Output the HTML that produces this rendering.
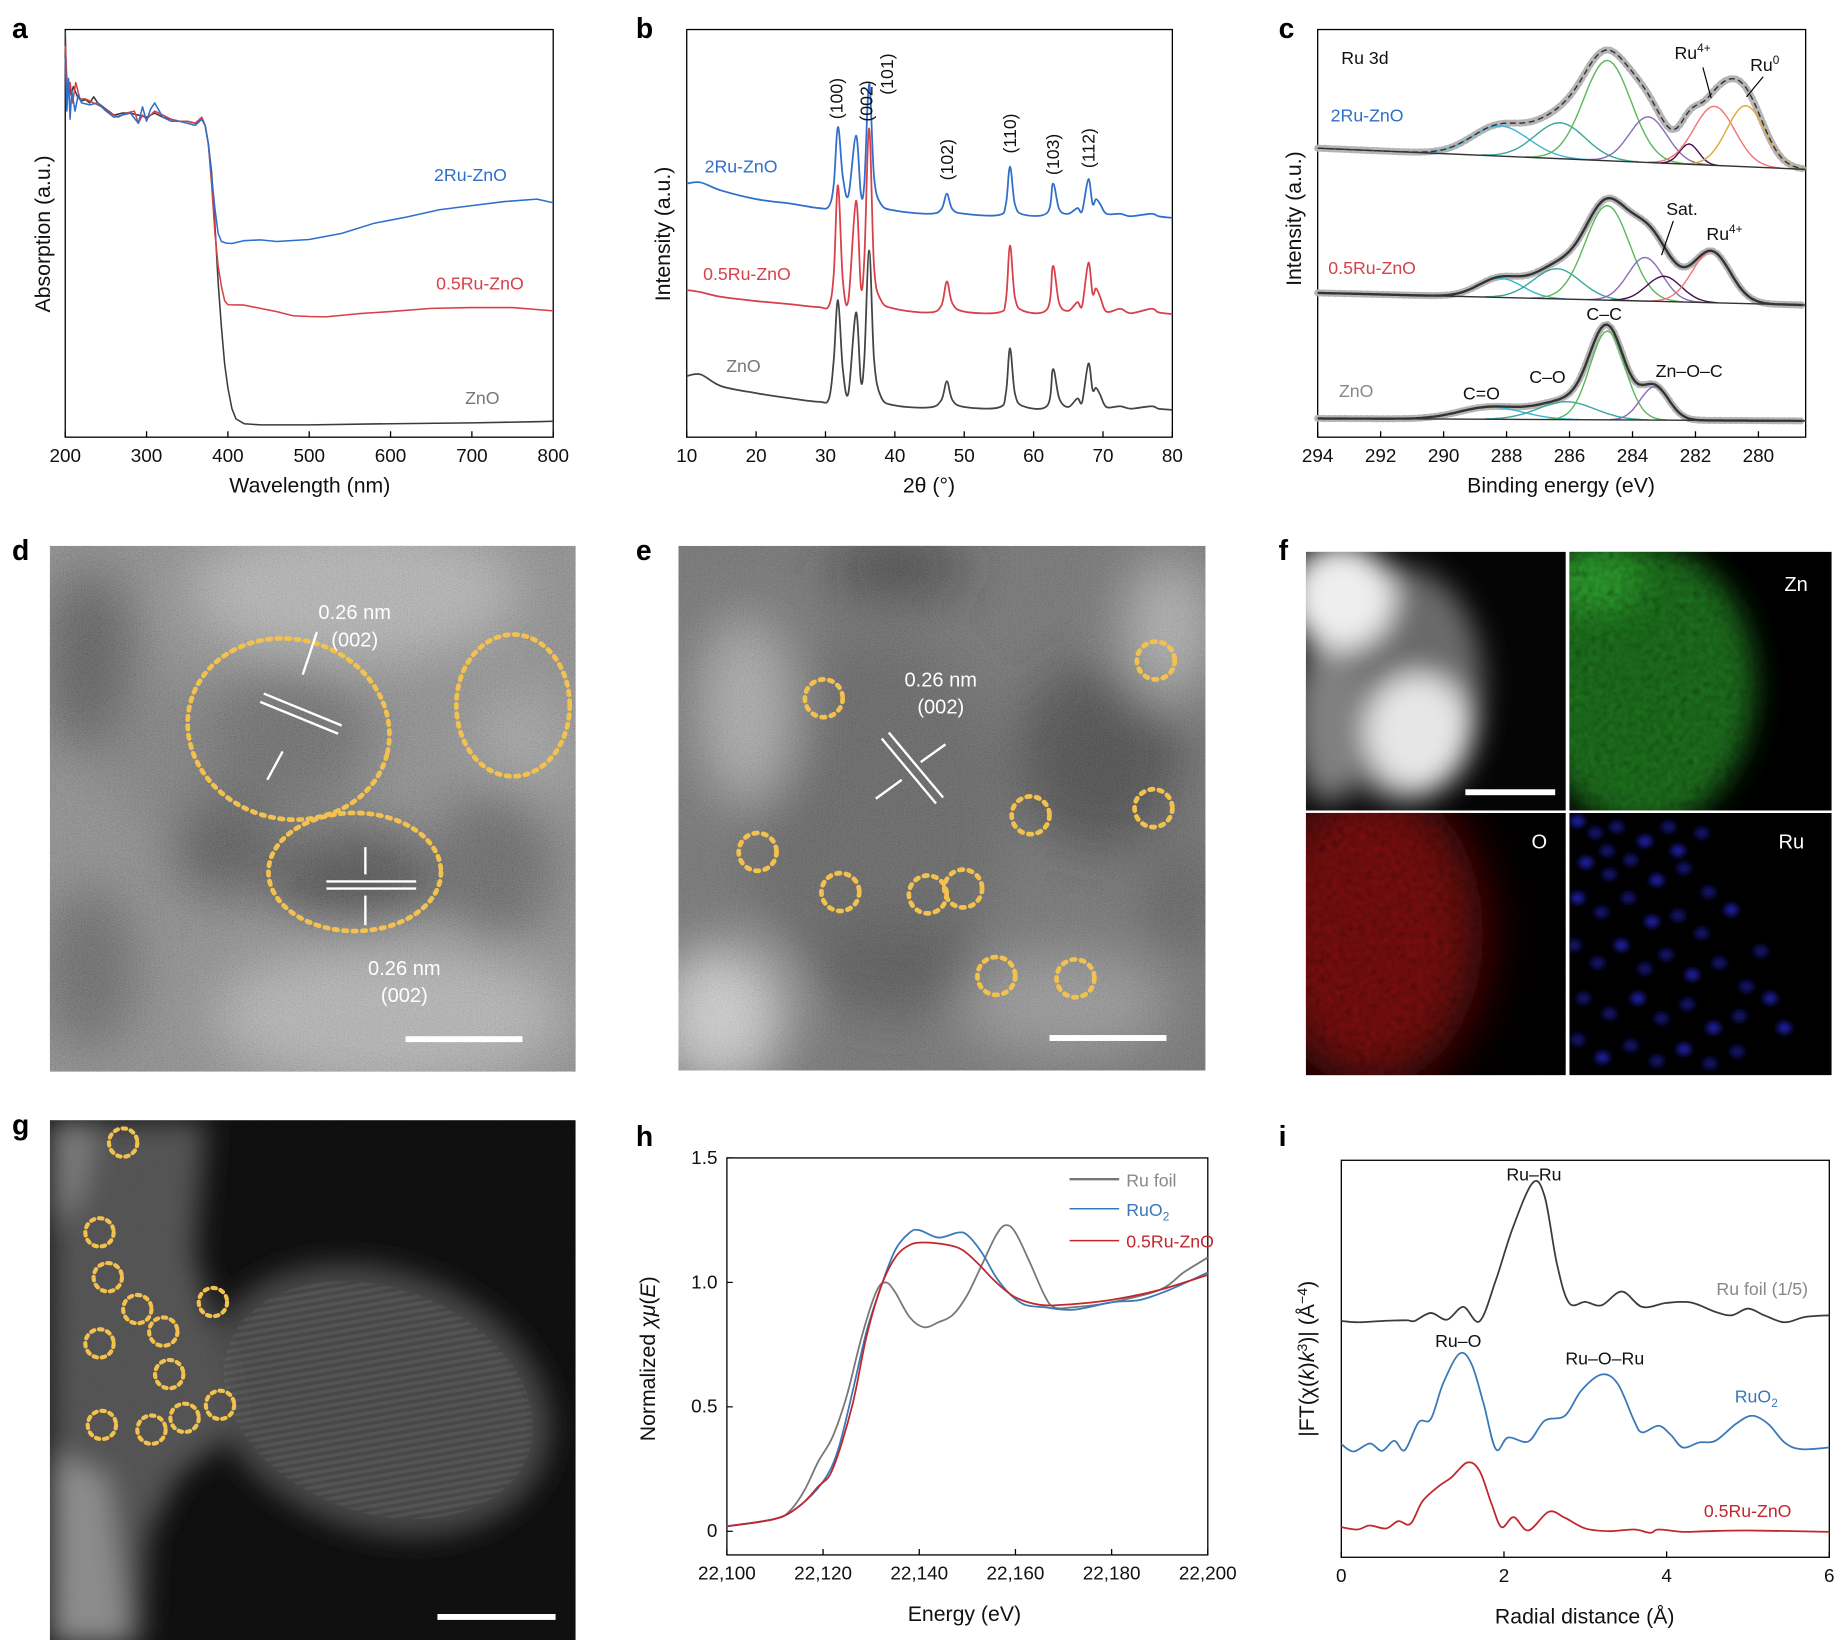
<!DOCTYPE html>
<html><head><meta charset="utf-8"><style>
html,body{margin:0;padding:0;background:#fff;}
svg{display:block;font-family:"Liberation Sans",Arial,sans-serif;}
</style></head><body>
<svg id="fig" width="1839" height="1640" viewBox="0 0 1556 1388" xmlns="http://www.w3.org/2000/svg">
<defs>
<filter id="noise" x="0" y="0" width="100%" height="100%"><feTurbulence type="fractalNoise" baseFrequency="0.9" numOctaves="2" seed="3"/><feColorMatrix values="0.33 0.33 0.33 0 0  0.33 0.33 0.33 0 0  0.33 0.33 0.33 0 0  0 0 0 0 1"/></filter>
<filter id="noiseC" x="0" y="0" width="100%" height="100%"><feTurbulence type="fractalNoise" baseFrequency="0.18" numOctaves="2" seed="7"/><feColorMatrix values="0.6 0.6 0.6 0 -0.25  0.6 0.6 0.6 0 -0.25  0.6 0.6 0.6 0 -0.25  0 0 0 0 1"/></filter>
<filter id="blur8" x="-60%" y="-60%" width="220%" height="220%"><feGaussianBlur stdDeviation="12"/></filter>
<filter id="blur20" x="-80%" y="-80%" width="260%" height="260%"><feGaussianBlur stdDeviation="22"/></filter>
<filter id="blur4" x="-50%" y="-50%" width="200%" height="200%"><feGaussianBlur stdDeviation="2.5"/></filter>
<pattern id="stripes" width="6" height="6" patternUnits="userSpaceOnUse" patternTransform="rotate(60)"><rect width="3" height="6" fill="#fff"/></pattern>
<clipPath id="cd"><rect x="42" y="462" width="445" height="445"/></clipPath>
<clipPath id="ce"><rect x="574" y="462" width="446" height="444"/></clipPath>
<clipPath id="cg"><rect x="42" y="948" width="445" height="444"/></clipPath>
<clipPath id="cf1"><rect x="1105" y="467" width="220" height="219"/></clipPath>
<clipPath id="cf2"><rect x="1328" y="467" width="222" height="219"/></clipPath>
<clipPath id="cf3"><rect x="1105" y="688" width="220" height="222"/></clipPath>
<clipPath id="cf4"><rect x="1328" y="688" width="222" height="222"/></clipPath>
</defs>

<g font-weight="bold" font-size="24" fill="#000">
<text x="10" y="32">a</text>
<text x="538" y="32">b</text>
<text x="1082" y="32">c</text>
<text x="10" y="474">d</text>
<text x="538" y="474">e</text>
<text x="1082" y="474">f</text>
<text x="10" y="960">g</text>
<text x="538" y="970">h</text>
<text x="1082" y="970">i</text>
</g>

<!-- d image -->
<g clip-path="url(#cd)">
<rect x="42" y="462" width="445" height="445" fill="#7a7a7a"/>
<g filter="url(#blur20)">
<ellipse cx="300" cy="500" rx="140" ry="60" fill="#b0b0b0"/>
<ellipse cx="330" cy="860" rx="150" ry="60" fill="#b0b0b0"/>
<ellipse cx="440" cy="640" rx="40" ry="60" fill="#999"/>
<ellipse cx="75" cy="560" rx="40" ry="80" fill="#353535"/>
<ellipse cx="150" cy="640" rx="60" ry="60" fill="#666"/>
<ellipse cx="190" cy="715" rx="45" ry="45" fill="#2e2e2e"/>
<ellipse cx="300" cy="745" rx="70" ry="45" fill="#222"/>
<ellipse cx="244" cy="625" rx="70" ry="65" fill="#4c4c4c"/>
<ellipse cx="420" cy="730" rx="50" ry="70" fill="#444"/>
<ellipse cx="75" cy="820" rx="40" ry="70" fill="#444"/>
</g>
<rect x="42" y="462" width="445" height="445" filter="url(#noise)" opacity="0.4"/>
</g>
<g fill="none" stroke="#f2c14e" stroke-width="4" stroke-dasharray="3 5" stroke-linecap="round">
<ellipse cx="244" cy="617" rx="86" ry="76" transform="rotate(15 244 617)"/>
<ellipse cx="434" cy="597" rx="48" ry="60"/>
<ellipse cx="300" cy="738" rx="73" ry="50"/>
</g>
<g stroke="#fff" stroke-width="2" fill="none">
<line x1="220" y1="594" x2="286" y2="621"/><line x1="223" y1="587" x2="289" y2="614"/>
<line x1="276" y1="746" x2="352" y2="746"/><line x1="276" y1="752" x2="352" y2="752"/>
<line x1="268" y1="535" x2="256" y2="571"/><line x1="239" y1="636" x2="226" y2="660"/>
<line x1="309" y1="717" x2="309" y2="740"/><line x1="309" y1="758" x2="309" y2="783"/>
</g>
<g fill="#fff" font-size="17" text-anchor="middle">
<text x="300" y="524">0.26 nm</text><text x="300" y="547">(002)</text>
<text x="342" y="825">0.26 nm</text><text x="342" y="848">(002)</text>
</g>
<rect x="343" y="877" width="99" height="5" fill="#fff"/>

<!-- e image -->
<g clip-path="url(#ce)">
<rect x="574" y="462" width="446" height="444" fill="#5a5a5a"/>
<g filter="url(#blur20)">
<ellipse cx="740" cy="690" rx="110" ry="150" fill="#464646"/>
<ellipse cx="930" cy="640" rx="70" ry="80" fill="#262626"/>
<ellipse cx="760" cy="480" rx="60" ry="30" fill="#202020"/>
<ellipse cx="610" cy="860" rx="55" ry="60" fill="#d0d0d0"/>
<ellipse cx="630" cy="600" rx="40" ry="80" fill="#a5a5a5"/>
<ellipse cx="990" cy="530" rx="40" ry="60" fill="#a8a8a8"/>
<ellipse cx="900" cy="850" rx="90" ry="45" fill="#8a8a8a"/>
<ellipse cx="760" cy="820" rx="70" ry="40" fill="#363636"/>
<ellipse cx="1000" cy="760" rx="30" ry="50" fill="#404040"/>
</g>
<rect x="574" y="462" width="446" height="444" filter="url(#noise)" opacity="0.35"/>
</g>
<g fill="none" stroke="#f2c14e" stroke-width="4" stroke-dasharray="3 5" stroke-linecap="round">
<circle cx="697" cy="591" r="16"/><circle cx="978" cy="559" r="16"/><circle cx="641" cy="721" r="16"/>
<circle cx="711" cy="755" r="16"/><circle cx="785" cy="757" r="16"/><circle cx="815" cy="752" r="16"/>
<circle cx="872" cy="690" r="16"/><circle cx="976" cy="684" r="16"/><circle cx="843" cy="826" r="16"/><circle cx="910" cy="828" r="16"/>
</g>
<g stroke="#fff" stroke-width="2" fill="none">
<line x1="746" y1="625" x2="792" y2="680"/><line x1="752" y1="620" x2="798" y2="675"/>
<line x1="800" y1="630" x2="779" y2="645"/><line x1="741" y1="676" x2="763" y2="660"/>
</g>
<g fill="#fff" font-size="17" text-anchor="middle"><text x="796" y="581">0.26 nm</text><text x="796" y="604">(002)</text></g>
<rect x="888" y="876" width="99" height="5" fill="#fff"/>

<!-- f maps -->
<g clip-path="url(#cf1)">
<rect x="1105" y="467" width="220" height="219" fill="#050505"/>
<g filter="url(#blur8)">
<ellipse cx="1185" cy="580" rx="70" ry="100" fill="#6a6a6a"/>
<ellipse cx="1125" cy="610" rx="30" ry="70" fill="#808080"/>
<ellipse cx="1135" cy="505" rx="45" ry="45" fill="#eeeeee"/>
<ellipse cx="1200" cy="620" rx="45" ry="50" fill="#e6e6e6"/>
</g>
<rect x="1240" y="668" width="76" height="5" fill="#fff"/>
</g>
<g clip-path="url(#cf2)">
<rect x="1328" y="467" width="222" height="219" fill="#000"/>
<ellipse cx="1390" cy="580" rx="95" ry="120" fill="#1a701a" filter="url(#blur8)"/>
<ellipse cx="1350" cy="490" rx="40" ry="30" fill="#2a9a2a" filter="url(#blur8)"/>
<rect x="1328" y="467" width="222" height="219" filter="url(#noiseC)" opacity="0.6" style="mix-blend-mode:multiply"/>
</g>
<g clip-path="url(#cf3)">
<rect x="1105" y="688" width="220" height="222" fill="#000"/>
<ellipse cx="1160" cy="790" rx="95" ry="130" fill="#7a0c0c" filter="url(#blur20)"/>
<rect x="1105" y="688" width="220" height="222" filter="url(#noiseC)" opacity="0.65" style="mix-blend-mode:multiply"/>
</g>
<g clip-path="url(#cf4)">
<rect x="1328" y="688" width="222" height="222" fill="#000"/>
<g id="rudots" fill="#1a1aa0" filter="url(#blur4)"></g>
</g>
<g fill="#fff" font-size="17">
<text x="1510" y="500">Zn</text><text x="1296" y="718">O</text><text x="1505" y="718">Ru</text>
</g>

<!-- g image -->
<g clip-path="url(#cg)">
<rect x="42" y="948" width="445" height="444" fill="#000"/>
<g filter="url(#blur8)">
<ellipse cx="320" cy="1185" rx="150" ry="110" transform="rotate(20 320 1185)" fill="#3c3c3c"/>
<polygon points="42,948 175,948 165,1060 190,1150 200,1210 150,1250 125,1300 120,1392 42,1392" fill="#4a4a4a"/>
<polygon points="42,1230 90,1250 110,1392 42,1392" fill="#858585"/>
<polygon points="42,948 80,948 70,1010 42,1040" fill="#747474"/>
</g>
<ellipse cx="320" cy="1185" rx="135" ry="95" transform="rotate(20 320 1185)" fill="url(#stripes)" opacity="0.06"/>
<rect x="42" y="948" width="445" height="444" filter="url(#noise)" opacity="0.08" style="mix-blend-mode:screen"/>
</g>
<g fill="none" stroke="#f2c14e" stroke-width="3.5" stroke-dasharray="3 4" stroke-linecap="round">
<circle cx="104" cy="967" r="12"/><circle cx="84" cy="1043" r="12"/><circle cx="91" cy="1081" r="12"/><circle cx="116" cy="1108" r="12"/>
<circle cx="138" cy="1127" r="12"/><circle cx="84" cy="1137" r="12"/><circle cx="180" cy="1102" r="12"/><circle cx="143" cy="1163" r="12"/>
<circle cx="86" cy="1206" r="12"/><circle cx="128" cy="1210" r="12"/><circle cx="156" cy="1200" r="12"/><circle cx="186" cy="1189" r="12"/>
</g>
<rect x="370" y="1366" width="100" height="5" fill="#fff"/>

<g id="charts"></g>
</svg>
<script>
// ---------- data: panel a (UV-vis) ----------
const uvX_zno  = [200,202,204,207,210,215,220,225,230,235,240,250,260,270,280,290,300,310,320,330,340,350,360,368,372,376,380,384,388,392,396,400,405,410,420,440,500,600,700,780,800];
const uvY_zno  = [99.7,83,87,84,86,83.5,82.5,82.8,82,83.5,82,80.5,79,79.5,79.5,79,78.5,79.5,78.5,78,77.5,77.5,77,78,76.5,72,65,52,38,27,18,12,7,4.5,3.3,3.0,3.0,3.3,3.5,3.8,3.9];
const uvX_2ru  = [200,202,204,206,208,212,216,220,230,240,250,260,270,280,290,295,300,305,310,320,330,340,350,360,368,372,376,380,384,388,392,398,405,420,440,460,500,540,580,620,660,700,740,780,800];
const uvY_2ru  = [93,80,88,78,85,80,84,82,81.5,82,80,78.5,79,79.5,77,81,77.5,80.5,82,78.5,77.5,77.5,77,76.5,78,76.5,72,64,56,50,48,47.6,47.5,48.2,48.4,48,48.5,50,52.5,54,55.8,56.8,57.8,58.4,57.5];
const uvX_05ru = [200,203,206,209,213,218,225,235,245,255,265,275,285,290,295,300,310,320,330,340,350,360,368,372,376,380,384,388,392,396,400,420,440,460,480,500,520,560,600,650,700,750,800];
const uvY_05ru = [96,84,87,82,87,83,83,82,81,79.5,78.5,79.5,80,77,79,78,80,79,78,77.5,77.5,77,78.5,76.5,72,62,50,42,37,33.5,32.5,32.4,31.6,30.8,29.8,29.6,29.5,30.3,30.8,31.6,31.8,31.8,31];
const uvTicks = [200,300,400,500,600,700,800];

// ---------- data: panel b (XRD) ----------
const xrdX = [10,12,15,20,25,29,30.5,31.2,31.8,32.5,33.3,34.4,35.1,35.6,36.3,37,38,40,45,46.7,47.5,48.3,50,55,56,56.6,57.3,58.5,62,62.8,63.7,65,66.3,67,67.9,68.5,69,69.6,70.5,72.5,74,77,78,80];
const xrd2Ru  = [62.2,62.5,60.5,58.4,57.3,56.2,56.7,62.2,76.1,63.9,59.3,74.0,59.7,62.2,86.7,63.9,57.2,55.6,54.8,55.9,59.7,55.9,54.8,54.5,57.2,66.4,57.2,54.6,55.1,62.2,55.9,54.8,56.2,55.5,63.3,57.2,58.4,57.2,54.8,54.8,54.2,54.8,54.2,53.8];
const xrd05Ru = [36.1,35.6,34.4,33.4,32.6,31.9,32.3,40.3,61.8,38.6,33.6,58.0,36.9,43.7,75.7,42.0,33.6,31.5,30.6,32.3,38.2,32.8,30.8,30.6,33.6,47.0,34.4,31.0,31.5,42.0,32.8,31.0,33.1,32.3,42.8,35.2,36.5,34.4,30.8,31.5,30.4,31.5,30.6,30.2];
const xrdZnO  = [15,15.4,12.5,10.8,9.5,8.7,9.5,19.2,33.6,16.7,10.8,30.6,13.7,19.2,45.8,19.2,9.9,7.8,7.3,9.1,13.7,9.1,7.4,7.3,10.8,21.8,10.8,7.6,7.8,16.7,9.5,7.4,9.5,8.7,18.1,11.6,12.1,10.4,7.4,7.6,7.0,7.6,7.0,6.7];
const xrdTicks = [10,20,30,40,50,60,70,80];
const hklLabels = ["(100)","(002)","(101)","(102)","(110)","(103)","(112)"];
const hklPos = [31.8,34.4,36.3,47.5,56.6,62.8,67.9];
const hklTop = [78,77.4,84,63,69.6,64.3,66];

// ---------- data: panel c (XPS fit components) ----------
const xpsTicks = [294,292,290,288,286,284,282,280];
const base2Ru = [70.9,65.7], base05Ru = [35.4,32.4], baseZnO = [4.6,4.0];
const comp2RuCenter = [288.2,286.3,284.8,283.5,282.2,281.4,280.4];
const comp2RuHeight = [7.4,8.8,24.6,11.2,5.0,14.5,15.0];
const comp2RuWidth  = [0.9,0.8,0.75,0.6,0.3,0.65,0.6];
const comp05RuCenter = [288.2,286.4,284.8,283.6,283.0,281.5];
const comp05RuHeight = [4.7,7.4,23.2,10.7,6.2,12.6];
const comp05RuWidth  = [0.7,0.75,0.7,0.55,0.55,0.6];
const compZnOCenter = [288.5,286.1,284.8,283.3];
const compZnOHeight = [3.0,4.4,21.8,8.2];
const compZnOWidth  = [1.0,0.9,0.55,0.45];
const comp2RuColors = ["#3bb5d8","#3aa89a","#5cb85c","#8a6cb8","#4a1050","#f07575","#e0a83a"];
const comp05RuColors = ["#3bb5d8","#3aa89a","#5cb85c","#8a6cb8","#4a1050","#f07575"];
const compZnOColors = ["#3bb5d8","#3aa89a","#5cb85c","#8a6cb8"];

// ---------- data: panel h (XANES) ----------
const xanesTicks = [22100,22120,22140,22160,22180,22200];
const xanesYTicks = [0,0.5,1.0,1.5];
const foilE = [22100,22110,22113,22116,22119,22122,22125,22128,22131,22133,22135,22138,22141,22144,22147,22150,22153,22156,22158,22160,22163,22166,22168,22172,22180,22190,22195,22200];
const foilMu = [0.02,0.05,0.08,0.16,0.28,0.38,0.55,0.78,0.96,1.0,0.96,0.86,0.82,0.84,0.87,0.95,1.07,1.19,1.23,1.2,1.08,0.95,0.9,0.9,0.92,0.97,1.04,1.1];
const ruo2E = [22100,22110,22115,22120,22123,22126,22129,22132,22135,22138,22140,22144,22148,22150,22153,22156,22159,22162,22166,22172,22180,22186,22192,22200];
const ruo2Mu = [0.02,0.05,0.1,0.2,0.32,0.55,0.8,0.98,1.13,1.2,1.21,1.18,1.2,1.19,1.12,1.02,0.95,0.91,0.9,0.89,0.92,0.93,0.97,1.04];
const rzE = [22100,22110,22115,22119,22122,22126,22129,22132,22135,22138,22141,22146,22149,22152,22156,22160,22165,22170,22180,22190,22200];
const rzMu = [0.02,0.05,0.1,0.18,0.25,0.5,0.78,0.98,1.1,1.15,1.16,1.15,1.13,1.08,1.0,0.94,0.91,0.91,0.93,0.97,1.03];

// ---------- data: panel i (EXAFS FT) ----------
const rTicks = [0,2,4,6];
const foilR = [0,0.2,0.5,0.8,0.9,1.1,1.3,1.5,1.7,1.9,2.1,2.35,2.5,2.65,2.8,3.0,3.2,3.45,3.7,4.0,4.3,4.6,4.8,5.0,5.2,5.45,5.7,6.0];
const foilFT = [706,702,706,708,706,730,710,748,705,828,978,1118,1078,878,760,763,753,794,748,760,761,733,723,743,723,702,718,723];
const ruo2R = [0,0.15,0.35,0.5,0.65,0.78,0.95,1.1,1.25,1.45,1.6,1.75,1.9,2.05,2.3,2.5,2.75,2.95,3.2,3.4,3.6,3.7,3.9,4.05,4.2,4.4,4.6,4.85,5.05,5.25,5.45,5.65,6.0];
const ruo2FT = [338,316,340,318,348,320,403,413,518,608,578,458,323,358,346,408,423,498,546,518,408,373,393,366,328,343,348,398,423,398,343,323,328];
const rzR = [0,0.2,0.35,0.55,0.7,0.85,1.0,1.2,1.35,1.55,1.7,1.85,1.97,2.12,2.3,2.55,2.75,3.0,3.3,3.6,3.8,3.9,4.2,4.5,5.0,6.0];
const rzFT = [90,83,95,86,108,100,168,213,238,283,258,158,90,120,80,136,118,86,78,83,73,83,76,78,80,76];

const NS = "http://www.w3.org/2000/svg";
const root = document.getElementById('charts');
function el(tag, attrs, parent){ const e=document.createElementNS(NS,tag); for(const k in attrs) e.setAttribute(k,attrs[k]); (parent||root).appendChild(e); return e; }
function lin(d0,d1,r0,r1){ return v => r0+(v-d0)/(d1-d0)*(r1-r0); }
function smoothPath(pts){
  let d="M"+pts[0][0].toFixed(1)+","+pts[0][1].toFixed(1);
  for(let i=0;i<pts.length-1;i++){
    const p0=pts[i-1]||pts[i], p1=pts[i], p2=pts[i+1], p3=pts[i+2]||p2;
    const c1=[p1[0]+(p2[0]-p0[0])/6, p1[1]+(p2[1]-p0[1])/6];
    const c2=[p2[0]-(p3[0]-p1[0])/6, p2[1]-(p3[1]-p1[1])/6];
    d+="C"+c1[0].toFixed(1)+","+c1[1].toFixed(1)+" "+c2[0].toFixed(1)+","+c2[1].toFixed(1)+" "+p2[0].toFixed(1)+","+p2[1].toFixed(1);
  }
  return d;
}
function series(xs,ys,sx,sy,color,w,name,smooth){
  const pts=xs.map((x,i)=>[sx(x),sy(ys[i])]);
  const p=el('path',{d: smooth===false ? "M"+pts.map(p=>p[0].toFixed(1)+","+p[1].toFixed(1)).join("L") : smoothPath(pts), fill:'none',stroke:color,'stroke-width':w,'stroke-linejoin':'round'});
  
  
  return p;
}
function frame(x0,y0,x1,y1,name){
  const r=el('rect',{x:x0,y:y0,width:x1-x0,height:y1-y0,fill:'none',stroke:'#000','stroke-width':1.1});
  
  
}
function xAxis(ticks,sx,y,labelFn,name){
  const g=el('g',{});
  
  
  ticks.forEach(t=>{
    el('line',{x1:sx(t),x2:sx(t),y1:y,y2:y-5,stroke:'#000','stroke-width':1.1},g);
    const tx=el('text',{x:sx(t),y:y+21,'text-anchor':'middle','font-size':16,fill:'#111'},g);
    tx.textContent=labelFn?labelFn(t):t;
  });
}
function txt(x,y,s,opts,name){
  const t=el('text',Object.assign({x:x,y:y,'font-size':16,fill:'#111'},opts||{}));
  t.textContent=s;
  
  
  return t;
}

// ===== Panel a =====
{
  const sx=lin(200,800,55,468), sy=lin(0,100,370,25);
  frame(55,25,468,370,'frame-a');
  xAxis(uvTicks,sx,370,null,'x-axis-a');
  series(uvX_zno,uvY_zno,sx,sy,'#3b3b3b',1.3,'line-zno-a',false);
  series(uvX_05ru,uvY_05ru,sx,sy,'#d8404a',1.3,'line-05ru-a',false);
  series(uvX_2ru,uvY_2ru,sx,sy,'#2f6fcc',1.3,'line-2ru-a',false);
  txt(262,417,'Wavelength (nm)',{'text-anchor':'middle','font-size':18},'x-axis-title-a');
  txt(42,198,'Absorption (a.u.)',{'text-anchor':'middle','font-size':18,transform:'rotate(-90 42 198)'},'y-axis-title-a');
  txt(398,153,'2Ru-ZnO',{'text-anchor':'middle',fill:'#2f6fcc',"font-size":15},'label-2ru-a');
  txt(406,245,'0.5Ru-ZnO',{'text-anchor':'middle',fill:'#d8404a',"font-size":15},'label-05ru-a');
  txt(408,342,'ZnO',{'text-anchor':'middle',fill:'#777',"font-size":15},'label-zno-a');
}
// ===== Panel b =====
{
  const sx=lin(10,80,581,992), sy=lin(0,100,370,25);
  frame(581,25,992,370,'frame-b');
  xAxis(xrdTicks,sx,370,null,'x-axis-b');
  series(xrdX,xrdZnO,sx,sy,'#444',1.5,'line-zno-b');
  series(xrdX,xrd05Ru,sx,sy,'#d8404a',1.5,'line-05ru-b');
  series(xrdX,xrd2Ru,sx,sy,'#2f6fcc',1.5,'line-2ru-b');
  const offs=[4,14,20,5,5,5,5];
  hklLabels.forEach((h,i)=>{
    const x=sx(hklPos[i])+offs[i], y=sy(hklTop[i]);
    const t=el('text',{x:x,y:y,'font-size':15,fill:'#111',transform:`rotate(-90 ${x} ${y})`});
    t.textContent=h;
    
    
  });
  txt(786,417,'2θ (°)',{'text-anchor':'middle','font-size':18},'x-axis-title-b');
  txt(567,198,'Intensity (a.u.)',{'text-anchor':'middle','font-size':18,transform:'rotate(-90 567 198)'},'y-axis-title-b');
  txt(627,146,'2Ru-ZnO',{'text-anchor':'middle',fill:'#2f6fcc',"font-size":15},'label-2ru-b');
  txt(632,237,'0.5Ru-ZnO',{'text-anchor':'middle',fill:'#d8404a',"font-size":15},'label-05ru-b');
  txt(629,315,'ZnO',{'text-anchor':'middle',fill:'#777',"font-size":15},'label-zno-b');
}
// ===== Panel c =====
{
  const sx=lin(294,278.5,1115,1528), sy=lin(0,100,370,25);
  frame(1115,25,1528,370,'frame-c');
  xAxis(xpsTicks,sx,370,null,'x-axis-c');
  const grid=[]; for(let e=294;e>=278.5;e-=0.1) grid.push(+e.toFixed(2));
  function drawSet(base,centers,heights,widths,colors,prefix,dashed){
    const b=e=>base[0]+(base[1]-base[0])*(294-e)/15.5;
    const comps=centers.map((c,k)=>grid.map(e=>heights[k]*Math.exp(-0.5*((e-c)/widths[k])**2)));
    const env=grid.map((e,j)=>b(e)+comps.reduce((s,cp)=>s+cp[j],0));
    const pts=el('path',{d:"M"+grid.map((e,j)=>sx(e).toFixed(1)+","+sy(env[j]).toFixed(1)).join("L"),fill:'none',stroke:'#b4b4b4','stroke-width':6,'stroke-dasharray':'2 2.5','stroke-linecap':'round'});
    
    
    comps.forEach((cp,k)=>{
      const keep=grid.map((e,j)=>[e,cp[j]]).filter(p=>p[1]>0.05);
      const p=el('path',{d:"M"+keep.map(p=>sx(p[0]).toFixed(1)+","+sy(b(p[0])+p[1]).toFixed(1)).join("L"),fill:'none',stroke:colors[k],'stroke-width':1.2});
      
      
    });
    const bl=el('line',{x1:sx(294),y1:sy(base[0]),x2:sx(278.5),y2:sy(base[1]),stroke:'#333','stroke-width':1.2});
    
    
    const ev=el('path',{d:"M"+grid.map((e,j)=>sx(e).toFixed(1)+","+sy(env[j]).toFixed(1)).join("L"),fill:'none',stroke:'#333','stroke-width':dashed?1.2:2,'stroke-dasharray':dashed?'5 3':'none'});
    
    
  }
  drawSet(base2Ru,comp2RuCenter,comp2RuHeight,comp2RuWidth,comp2RuColors,'xps-2ru',true);
  drawSet(base05Ru,comp05RuCenter,comp05RuHeight,comp05RuWidth,comp05RuColors,'xps-05ru',false);
  drawSet(baseZnO,compZnOCenter,compZnOHeight,compZnOWidth,compZnOColors,'xps-zno',false);
  txt(1321,417,'Binding energy (eV)',{'text-anchor':'middle','font-size':18},'x-axis-title-c');
  txt(1101,185,'Intensity (a.u.)',{'text-anchor':'middle','font-size':18,transform:'rotate(-90 1101 185)'},'y-axis-title-c');
  txt(1135,54,'Ru 3d',{'font-size':15},'label-ru3d');
  txt(1126,103,'2Ru-ZnO',{fill:'#2f6fcc','font-size':15},'label-2ru-c');
  txt(1124,232,'0.5Ru-ZnO',{fill:'#d8404a','font-size':15},'label-05ru-c');
  txt(1133,336,'ZnO',{fill:'#888','font-size':15},'label-zno-c');
  const r1=txt(1417,50,'Ru',{'font-size':15},'label-ru4-top'); el('tspan',{dy:-6,'font-size':10},r1).textContent='4+';
  const r2=txt(1481,60,'Ru',{'font-size':15},'label-ru0'); el('tspan',{dy:-6,'font-size':10},r2).textContent='0';
  txt(1410,182,'Sat.',{'font-size':15},'label-sat');
  const r3=txt(1444,203,'Ru',{'font-size':15},'label-ru4-mid'); el('tspan',{dy:-6,'font-size':10},r3).textContent='4+';
  txt(sx(284.9),271,'C–C',{'text-anchor':'middle','font-size':15},'label-cc');
  txt(sx(286.7),324,'C–O',{'text-anchor':'middle','font-size':15},'label-co');
  txt(sx(288.8),338,'C=O',{'text-anchor':'middle','font-size':15},'label-c=o');
  txt(sx(282.2),319,'Zn–O–C',{'text-anchor':'middle','font-size':15},'label-znoc');
  el('line',{x1:1441,y1:57,x2:1448,y2:83,stroke:'#000','stroke-width':1});
  el('line',{x1:1492,y1:65,x2:1478,y2:82,stroke:'#000','stroke-width':1});
  el('line',{x1:1416,y1:187,x2:1406,y2:216,stroke:'#000','stroke-width':1});
}
// ===== Panel h =====
{
  const sx=lin(22100,22200,615,1022), sy=lin(0,1.5,1296,980);
  frame(615,980,1022,1316,'frame-h');
  xAxis(xanesTicks,sx,1316,t=>String(t).replace(/(\d\d)(\d\d\d)/,'$1,$2'),'x-axis-h');
  const g=el('g',{});  
  xanesYTicks.forEach(t=>{ el('line',{x1:615,x2:620,y1:sy(t),y2:sy(t),stroke:'#000'},g); const tt=el('text',{x:607,y:sy(t)+5,'text-anchor':'end','font-size':16,fill:'#111'},g); tt.textContent=(t===0?'0':t.toFixed(1)); });
  series(foilE,foilMu,sx,sy,'#777',1.5,'line-ru-foil-h');
  series(ruo2E,ruo2Mu,sx,sy,'#3a78b8',1.5,'line-ruo2-h');
  series(rzE,rzMu,sx,sy,'#c0282e',1.5,'line-05ru-h');
  el('line',{x1:905,x2:947,y1:998,y2:998,stroke:'#777','stroke-width':2});
  el('line',{x1:905,x2:947,y1:1023,y2:1023,stroke:'#3a78b8','stroke-width':1.3});
  el('line',{x1:905,x2:947,y1:1050,y2:1050,stroke:'#c0282e','stroke-width':1.3});
  txt(953,1004,'Ru foil',{fill:'#888','font-size':15},'legend-ru-foil');
  const lr=txt(953,1029,'RuO',{fill:'#3a78b8','font-size':15},'legend-ruo2'); el('tspan',{dy:4,'font-size':10},lr).textContent='2';
  txt(953,1056,'0.5Ru-ZnO',{fill:'#c0282e','font-size':15},'legend-05ru');
  txt(816,1372,'Energy (eV)',{'text-anchor':'middle','font-size':18},'x-axis-title-h');
  const yt=txt(554,1150,'Normalized ',{'text-anchor':'middle','font-size':18,transform:'rotate(-90 554 1150)'},'y-axis-title-h');
  el('tspan',{'font-style':'italic'},yt).textContent='χμ';
  el('tspan',{},yt).textContent='(';
  el('tspan',{'font-style':'italic'},yt).textContent='E';
  el('tspan',{},yt).textContent=')';
}
// ===== Panel i =====
{
  const sx=lin(0,6,1135,1548), sy=lin(0,1186,1318,982);
  frame(1135,982,1548,1318,'frame-i');
  xAxis(rTicks,sx,1318,null,'x-axis-i');
  series(foilR,foilFT,sx,sy,'#3b3b3b',1.5,'line-ru-foil-i');
  series(ruo2R,ruo2FT,sx,sy,'#3a78b8',1.5,'line-ruo2-i');
  series(rzR,rzFT,sx,sy,'#c0282e',1.5,'line-05ru-i');
  txt(1298,999,'Ru–Ru',{'text-anchor':'middle','font-size':15},'label-ru-ru');
  txt(1234,1140,'Ru–O',{'text-anchor':'middle','font-size':15},'label-ru-o');
  txt(1358,1155,'Ru–O–Ru',{'text-anchor':'middle','font-size':15},'label-ru-o-ru');
  txt(1530,1096,'Ru foil (1/5)',{'text-anchor':'end',fill:'#888','font-size':15},'label-ru-foil-i');
  const l2=txt(1468,1187,'RuO',{fill:'#3a78b8','font-size':15},'label-ruo2-i'); el('tspan',{dy:4,'font-size':10},l2).textContent='2';
  txt(1516,1284,'0.5Ru-ZnO',{'text-anchor':'end',fill:'#c0282e','font-size':15},'label-05ru-i');
  txt(1341,1374,'Radial distance (Å)',{'text-anchor':'middle','font-size':18},'x-axis-title-i');
  const yi=txt(1112,1150,'|FT(χ(',{'text-anchor':'middle','font-size':18,transform:'rotate(-90 1112 1150)'},'y-axis-title-i');
  el('tspan',{'font-style':'italic'},yi).textContent='k';
  el('tspan',{},yi).textContent=')';
  el('tspan',{'font-style':'italic'},yi).textContent='k';
  el('tspan',{dy:-6,'font-size':12},yi).textContent='3';
  el('tspan',{dy:6},yi).textContent=')| (Å';
  el('tspan',{dy:-6,'font-size':12},yi).textContent='−4';
  el('tspan',{dy:6},yi).textContent=')';
}
// Ru map dots (decorative texture)
{
  const g=document.getElementById('rudots');
  const dots=[[1335,695],[1350,705],[1368,700],[1392,712],[1412,700],[1440,705],[1342,730],[1362,740],[1380,728],[1402,745],[1425,735],[1446,755],[1335,760],[1355,772],[1378,760],[1398,780],[1420,775],[1440,790],[1465,770],[1332,800],[1352,815],[1372,800],[1392,820],[1410,808],[1432,825],[1455,815],[1478,835],[1498,845],[1340,845],[1362,858],[1386,845],[1406,862],[1428,850],[1450,870],[1472,860],[1335,880],[1356,895],[1380,885],[1402,898],[1425,888],[1447,900],[1490,805],[1510,870],[1470,890],[1360,720],[1420,720]];
  dots.forEach((d,k)=>{ const c=el('ellipse',{cx:d[0],cy:d[1],rx:6,ry:5,opacity:(k%3===0?0.95:0.65)},g);   });
}
</script>
</body></html>
